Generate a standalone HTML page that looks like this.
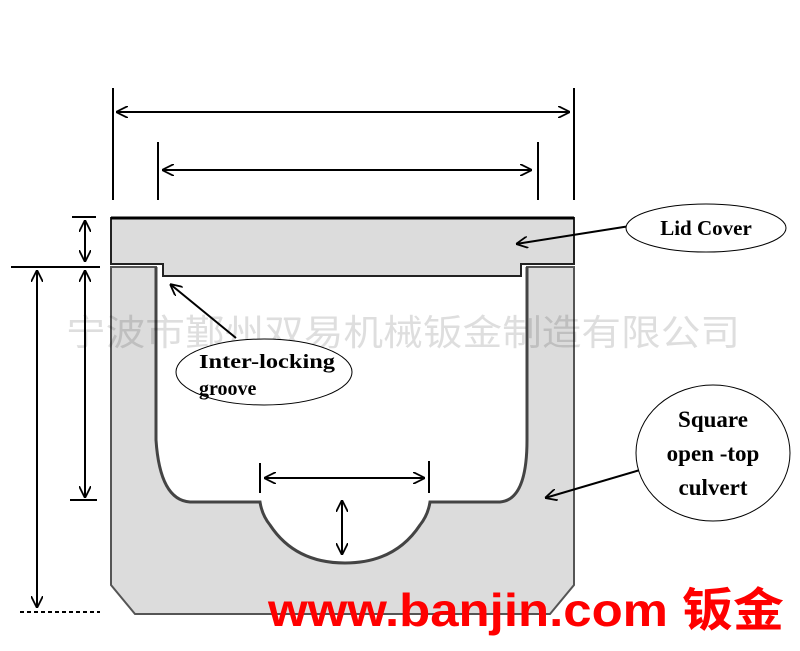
<!DOCTYPE html>
<html><head><style>body{margin:0;background:#fff}svg{display:block}</style></head><body>
<svg width="800" height="651" viewBox="0 0 800 651" xmlns="http://www.w3.org/2000/svg">
<defs><marker id="a" viewBox="0 0 10 10" refX="10" refY="5" markerWidth="12" markerHeight="12" orient="auto-start-reverse" markerUnits="userSpaceOnUse"><path d="M0,0 L10,5 L0,10" fill="none" stroke="#000" stroke-width="1.5"/></marker></defs>
<path d="M111,267 L156,267 L156,440 Q160,500 190,502 L260,502 Q262,515 270,525 Q295,563 345,563 Q395,563 420,525 Q428,515 430,502 L500,502 Q527,500 527,440 L527,267 L574,267 L574,585 L550,614 L135,614 L111,585 Z" fill="#dcdcdc" stroke="#555" stroke-width="2"/>
<path d="M156,267 L156,440 Q160,500 190,502 L260,502 Q262,515 270,525 Q295,563 345,563 Q395,563 420,525 Q428,515 430,502 L500,502 Q527,500 527,440 L527,267" fill="none" stroke="#444" stroke-width="3"/>
<path d="M111,218 L574,218 L574,264 L521,264 L521,276 L163,276 L163,264 L111,264 Z" fill="#dcdcdc" stroke="#222" stroke-width="2"/>
<line x1="111" y1="218" x2="574" y2="218" stroke="#000" stroke-width="3"/>
<g stroke="#000" stroke-width="2" fill="none">
<line x1="113" y1="88" x2="113" y2="200"/><line x1="574" y1="88" x2="574" y2="200"/>
<line x1="116" y1="112" x2="570" y2="112" marker-start="url(#a)" marker-end="url(#a)"/>
<line x1="158" y1="142" x2="158" y2="200"/><line x1="538" y1="142" x2="538" y2="200"/>
<line x1="162" y1="170" x2="532" y2="170" marker-start="url(#a)" marker-end="url(#a)"/>
<line x1="72" y1="217" x2="96" y2="217"/><line x1="11" y1="267" x2="100" y2="267"/>
<line x1="85" y1="220" x2="85" y2="262" marker-start="url(#a)" marker-end="url(#a)"/>
<line x1="37" y1="270" x2="37" y2="608" marker-start="url(#a)" marker-end="url(#a)"/>
<line x1="85" y1="270" x2="85" y2="498" marker-start="url(#a)" marker-end="url(#a)"/>
<line x1="70" y1="500" x2="97" y2="500"/><line x1="20" y1="612" x2="100" y2="612" stroke-dasharray="4,3"/>
<line x1="260" y1="463" x2="260" y2="493"/><line x1="429" y1="461" x2="429" y2="493"/>
<line x1="264" y1="478" x2="425" y2="478" marker-start="url(#a)" marker-end="url(#a)"/>
<line x1="342" y1="500" x2="342" y2="555" marker-start="url(#a)" marker-end="url(#a)"/>
<line x1="630" y1="226" x2="516" y2="244" marker-end="url(#a)"/>
<line x1="236" y1="338" x2="170" y2="284" marker-end="url(#a)"/>
<line x1="640" y1="470" x2="545" y2="498" marker-end="url(#a)"/>
</g>
<text x="66" y="345" textLength="674" lengthAdjust="spacingAndGlyphs" font-family="'Liberation Sans','Noto Sans CJK SC',sans-serif" font-size="36" fill="#000" fill-opacity="0.13">宁波市鄞州双易机械钣金制造有限公司</text>
<g fill="#fff" stroke="#000" stroke-width="1">
<ellipse cx="706" cy="228" rx="80" ry="24"/>
<ellipse cx="264" cy="372" rx="88" ry="33"/>
<ellipse cx="713" cy="453" rx="77" ry="68"/>
</g>
<g font-family="'Liberation Serif',serif" font-weight="bold" fill="#000">
<text x="706" y="235" font-size="21" text-anchor="middle">Lid Cover</text>
<text x="199" y="368" font-size="20" textLength="136" lengthAdjust="spacingAndGlyphs">Inter-locking</text>
<text x="199" y="395" font-size="20">groove</text>
<text x="713" y="427" font-size="23" text-anchor="middle">Square</text>
<text x="713" y="461" font-size="23" text-anchor="middle">open -top</text>
<text x="713" y="495" font-size="23" text-anchor="middle">culvert</text>
</g>
<text x="268" y="626" textLength="516" lengthAdjust="spacingAndGlyphs" font-family="'Liberation Sans','Noto Sans CJK SC',sans-serif" font-weight="bold" font-size="46" fill="#f00">www.banjin.com 钣金</text>
</svg>
</body></html>
